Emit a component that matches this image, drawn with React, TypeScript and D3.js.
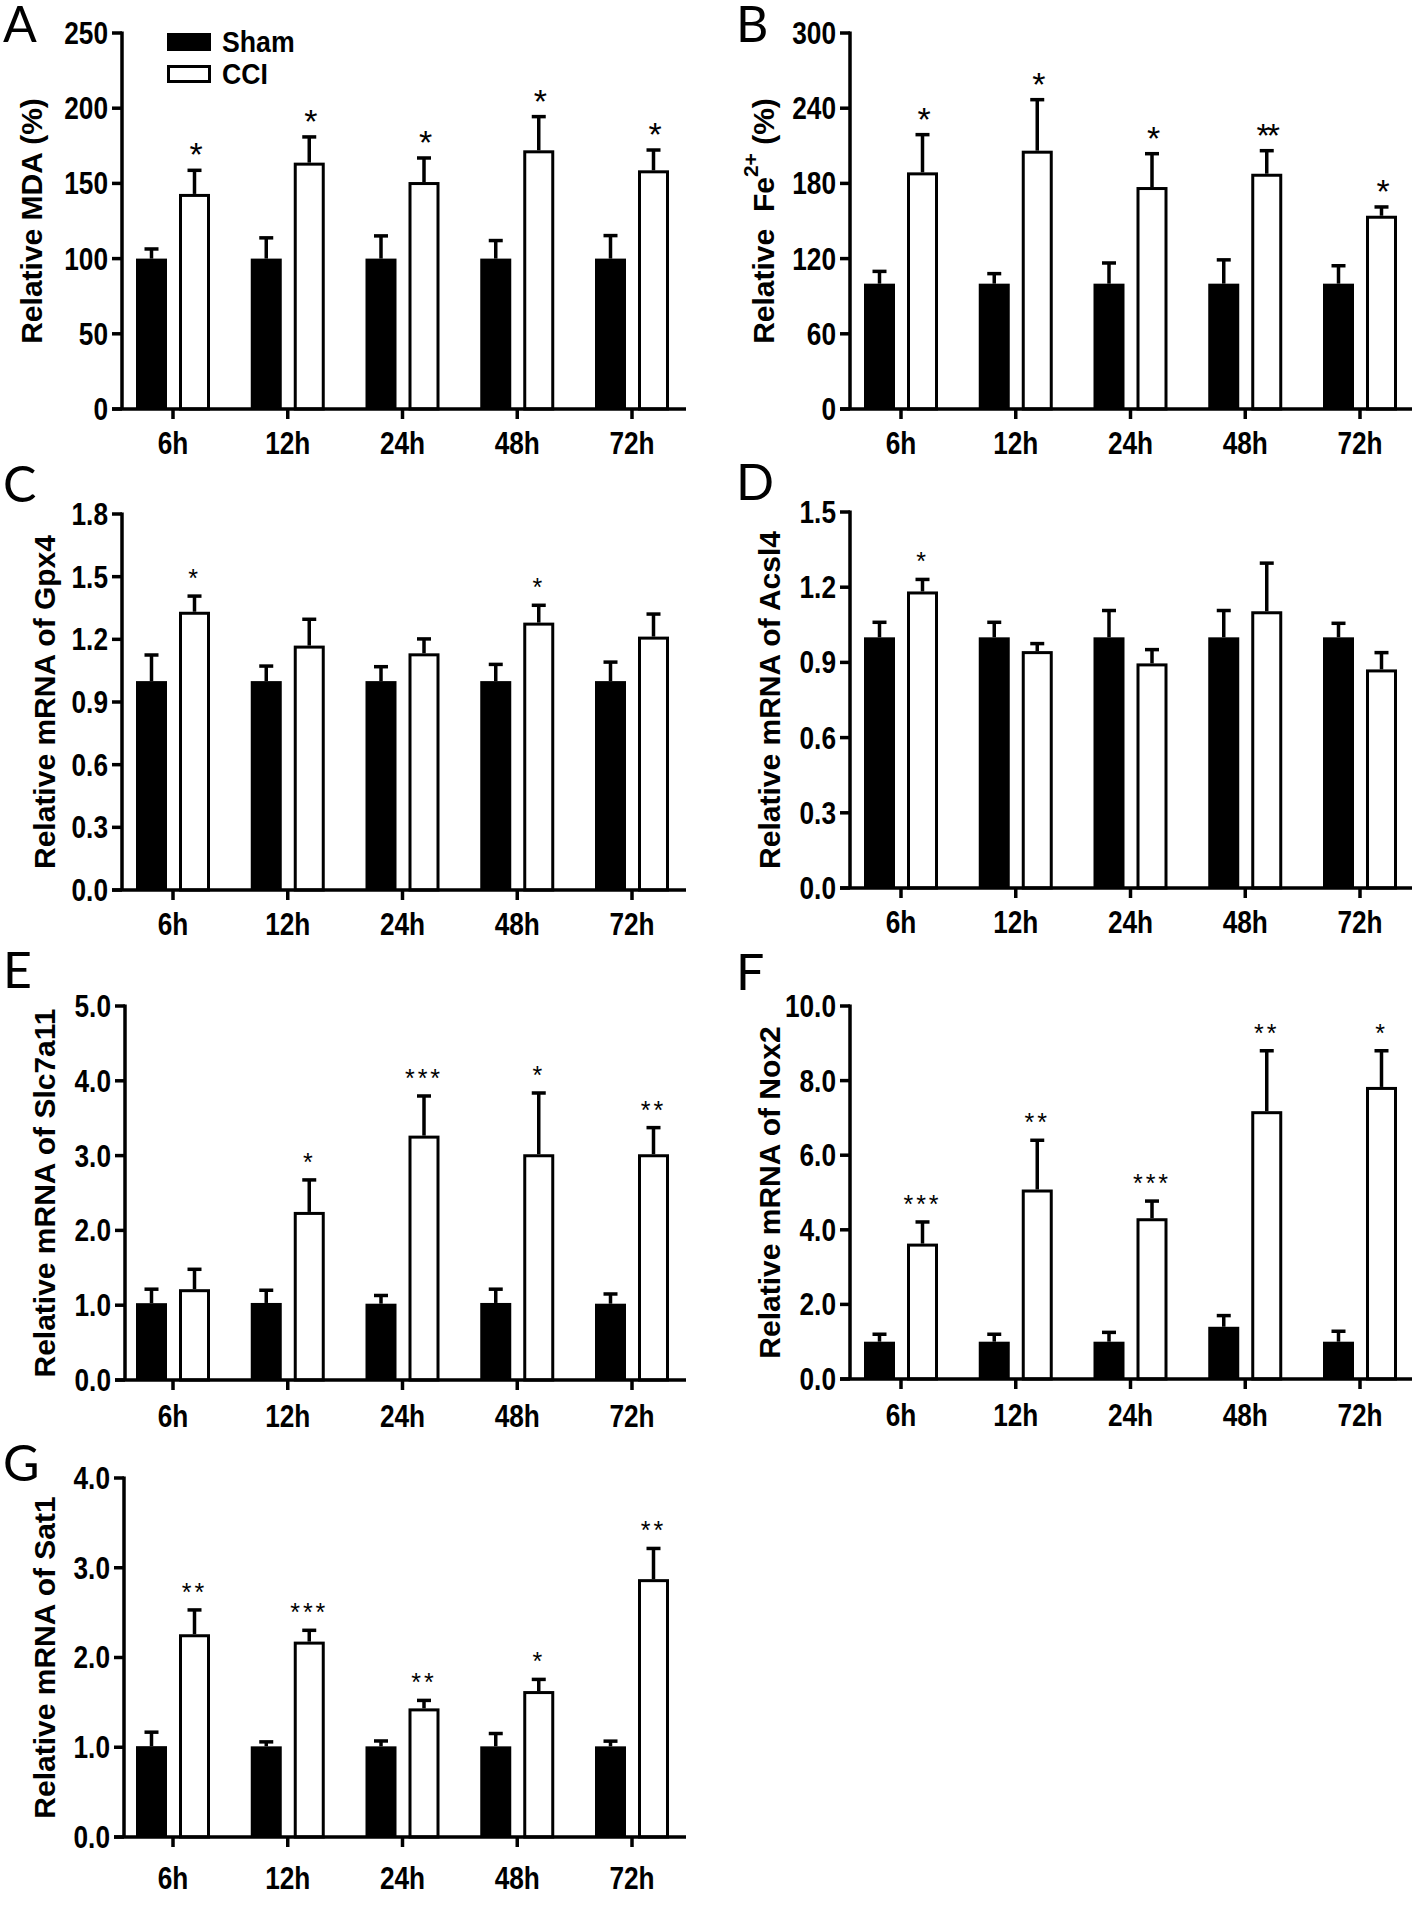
import React from 'react';
import * as d3 from 'd3';

const categories = ['6h', '12h', '24h', '48h', '72h'];
const legendLabels = ['Sham', 'CCI'];

// Panel A – MDA
const mdaSham = [100, 100, 100, 100, 100];
const mdaShamErr = [6.4, 13.8, 15.1, 12.0, 15.3];
const mdaCci = [143, 163.8, 150.9, 172, 158.7];
const mdaCciErr = [15.7, 17.1, 16.0, 22.4, 13.5];
const mdaSig = ['*', '*', '*', '*', '*'];
const mdaTicks = [0, 50, 100, 150, 200, 250];

// Panel B – Fe2+
const feSham = [100, 100, 100, 100, 100];
const feShamErr = [9.8, 8.0, 16.5, 19.0, 14.3];
const feCci = [188.8, 206.1, 177.1, 187.7, 154.2];
const feCciErr = [30.1, 40.7, 26.6, 18.4, 7.0];
const feSig = ['*', '*', '*', '**', '*'];
const feTicks = [0, 60, 120, 180, 240, 300];

// Panel C – Gpx4
const gpxSham = [1.0, 1.0, 1.0, 1.0, 1.0];
const gpxShamErr = [0.125, 0.072, 0.069, 0.08, 0.091];
const gpxCci = [1.332, 1.17, 1.133, 1.28, 1.213];
const gpxCciErr = [0.075, 0.126, 0.069, 0.083, 0.108];
const gpxSig = ['*', '', '', '*', ''];
const gpxTicks = [0, 0.3, 0.6, 0.9, 1.2, 1.5, 1.8];

// Panel D – Acsl4
const acslSham = [1.0, 1.0, 1.0, 1.0, 1.0];
const acslShamErr = [0.06, 0.06, 0.107, 0.107, 0.056];
const acslCci = [1.183, 0.945, 0.896, 1.104, 0.872];
const acslCciErr = [0.048, 0.03, 0.055, 0.192, 0.067];
const acslSig = ['*', '', '', '', ''];
const acslTicks = [0, 0.3, 0.6, 0.9, 1.2, 1.5];

// Panel E – Slc7a11
const slcSham = [1.027, 1.03, 1.02, 1.03, 1.02];
const slcShamErr = [0.187, 0.17, 0.11, 0.184, 0.13];
const slcCci = [1.214, 2.247, 3.267, 3.018, 3.018];
const slcCciErr = [0.266, 0.428, 0.53, 0.819, 0.356];
const slcSig = ['', '*', '***', '*', '**'];
const slcTicks = [0, 1, 2, 3, 4, 5];

// Panel F – Nox2
const noxSham = [1.0, 1.0, 1.0, 1.4, 1.0];
const noxShamErr = [0.2, 0.2, 0.25, 0.3, 0.28];
const noxCci = [3.63, 5.08, 4.31, 7.18, 7.83];
const noxCciErr = [0.58, 1.32, 0.46, 1.62, 0.97];
const noxSig = ['***', '**', '***', '**', '*'];
const noxTicks = [0, 2, 4, 6, 8, 10];

// Panel G – Sat1
const satSham = [1.012, 1.01, 1.01, 1.01, 1.01];
const satShamErr = [0.156, 0.05, 0.06, 0.143, 0.058];
const satCci = [2.259, 2.177, 1.433, 1.626, 2.873];
const satCciErr = [0.271, 0.126, 0.089, 0.13, 0.342];
const satSig = ['**', '***', '**', '*', '**'];
const satTicks = [0, 1, 2, 3, 4];

const FONT = '"Liberation Sans", Arial, Helvetica, sans-serif';
const TICK_FS = 32;
const TICK_SX = 0.82;

const columns = [
  { axisX: 122, first: 173, last: 632, end: 686, titleX: 44, letterX: 3 },
  { axisX: 850, first: 901, last: 1360, end: 1412, titleX: 769, letterX: 736 },
];

type PanelDef = {
  letter: string;
  title: string;
  sham: number[];
  shamErr: number[];
  cci: number[];
  cciErr: number[];
  sig: string[];
  ticks: number[];
  fmt: (v: number) => string;
  col: number;
  top: number;
  bottom: number;
  letterY: number;
  titleX?: number;
  axisDx?: number;
  labelDy?: number;
  bigStars?: boolean;
  legend?: boolean;
};

const f0 = d3.format('d');
const f1 = d3.format('.1f');

const panels: PanelDef[] = [
  { letter: 'A', title: 'Relative MDA (%)', sham: mdaSham, shamErr: mdaShamErr, cci: mdaCci, cciErr: mdaCciErr, sig: mdaSig, ticks: mdaTicks, fmt: f0, col: 0, top: 33, bottom: 409, letterY: 42, titleX: 31, bigStars: true, legend: true },
  { letter: 'B', title: 'FE', sham: feSham, shamErr: feShamErr, cci: feCci, cciErr: feCciErr, sig: feSig, ticks: feTicks, fmt: f0, col: 1, top: 33, bottom: 409, letterY: 42, titleX: 763, bigStars: true },
  { letter: 'C', title: 'Relative mRNA of Gpx4', sham: gpxSham, shamErr: gpxShamErr, cci: gpxCci, cciErr: gpxCciErr, sig: gpxSig, ticks: gpxTicks, fmt: f1, col: 0, top: 514, bottom: 890, letterY: 502 },
  { letter: 'D', title: 'Relative mRNA of Acsl4', sham: acslSham, shamErr: acslShamErr, cci: acslCci, cciErr: acslCciErr, sig: acslSig, ticks: acslTicks, fmt: f1, col: 1, top: 512, bottom: 888, letterY: 500 },
  { letter: 'E', title: 'Relative mRNA of Slc7a11', sham: slcSham, shamErr: slcShamErr, cci: slcCci, cciErr: slcCciErr, sig: slcSig, ticks: slcTicks, fmt: f1, col: 0, top: 1006, bottom: 1380, letterY: 988, axisDx: 3, labelDy: 2 },
  { letter: 'F', title: 'Relative mRNA of Nox2', sham: noxSham, shamErr: noxShamErr, cci: noxCci, cciErr: noxCciErr, sig: noxSig, ticks: noxTicks, fmt: f1, col: 1, top: 1006, bottom: 1379, letterY: 990, labelDy: 2 },
  { letter: 'G', title: 'Relative mRNA of Sat1', sham: satSham, shamErr: satShamErr, cci: satCci, cciErr: satCciErr, sig: satSig, ticks: satTicks, fmt: f1, col: 0, top: 1478, bottom: 1837, letterY: 1481, axisDx: 2, labelDy: 7 },
];

const BAR_W = 31;
const HALF_OFF = 21.5;
const CAP = 14;

function NarrowText({ x, y, anchor, children, fs = TICK_FS, sx = TICK_SX, baseline }: { x: number; y: number; anchor: string; children: React.ReactNode; fs?: number; sx?: number; baseline?: string }) {
  return (
    <text
      transform={`translate(${x},${y}) scale(${sx},1)`}
      textAnchor={anchor}
      dominantBaseline={baseline}
      fontFamily={FONT}
      fontWeight="bold"
      fontSize={fs}
      fill="#000"
    >
      {children}
    </text>
  );
}

function Panel({ p }: { p: PanelDef }) {
  const c = columns[p.col];
  const axisX = c.axisX + (p.axisDx || 0);
  const x = d3.scalePoint<string>().domain(categories).range([c.first, c.last]);
  const yMax = p.ticks[p.ticks.length - 1];
  const y = d3.scaleLinear().domain([0, yMax]).range([p.bottom, p.top]);
  const starSize = p.bigStars ? 34 : 25;
  const starSpacing = p.bigStars ? -3 : 3;
  const starBase = p.bigStars ? 19 : 14;
  const titleX = p.titleX ?? c.titleX;
  const midY = (p.top + p.bottom) / 2;

  let title: React.ReactNode = p.title;
  if (p.title === 'FE') {
    title = (
      <>
        <tspan>{'Relative  Fe'}</tspan>
        <tspan dy={-13} fontSize={21}>2+</tspan>
        <tspan dy={13}>{' (%)'}</tspan>
      </>
    );
  }

  return (
    <g>
      <text x={c.letterX} y={p.letterY} fontFamily="Lato, 'Open Sans', sans-serif" fontSize={50} fill="#000">
        {p.letter}
      </text>
      <text
        transform={`translate(${titleX},${midY}) rotate(-90)`}
        textAnchor="middle"
        dominantBaseline="central"
        fontFamily={FONT}
        fontWeight="bold"
        fontSize={30}
        style={{ whiteSpace: 'pre' }}
      >
        {title}
      </text>
      {categories.map((cat, i) => {
        const cx = x(cat) as number;
        const sx = cx - HALF_OFF;
        const wx = cx + HALF_OFF;
        const sTop = y(p.sham[i]);
        const sErr = y(p.sham[i] + p.shamErr[i]);
        const wTop = y(p.cci[i]);
        const wErr = y(p.cci[i] + p.cciErr[i]);
        return (
          <g key={cat}>
            <rect x={sx - BAR_W / 2} y={sTop} width={BAR_W} height={p.bottom - sTop} fill="#000" />
            <line x1={sx} x2={sx} y1={sTop} y2={sErr} stroke="#000" strokeWidth={3.5} />
            <line x1={sx - CAP / 2} x2={sx + CAP / 2} y1={sErr} y2={sErr} stroke="#000" strokeWidth={3.5} />
            <line x1={wx} x2={wx} y1={wTop} y2={wErr} stroke="#000" strokeWidth={3.5} />
            <line x1={wx - CAP / 2} x2={wx + CAP / 2} y1={wErr} y2={wErr} stroke="#000" strokeWidth={3.5} />
            <rect x={wx - BAR_W / 2 + 1.5} y={wTop + 1.5} width={BAR_W - 3} height={p.bottom - wTop - 1.5} fill="#fff" stroke="#000" strokeWidth={3} />
            {p.sig[i] && (
              <text
                x={wx}
                y={wErr - 23 + starBase}
                textAnchor="middle"
                fontFamily={FONT}
                fontSize={starSize}
                letterSpacing={starSpacing}
                fill="#000"
              >
                {p.sig[i]}
              </text>
            )}
          </g>
        );
      })}
      <line x1={axisX} x2={axisX} y1={p.top - 1.5} y2={p.bottom} stroke="#000" strokeWidth={3.5} />
      {p.ticks.map((t) => (
        <g key={t}>
          <line x1={axisX - 10} x2={axisX} y1={y(t)} y2={y(t)} stroke="#000" strokeWidth={3.5} />
          <NarrowText x={axisX - 14} y={y(t)} anchor="end" baseline="central">
            {p.fmt(t)}
          </NarrowText>
        </g>
      ))}
      <line x1={axisX - 10} x2={c.end} y1={p.bottom} y2={p.bottom} stroke="#000" strokeWidth={3.5} />
      {categories.map((cat) => (
        <g key={cat}>
          <line x1={x(cat)} x2={x(cat)} y1={p.bottom} y2={p.bottom + 10} stroke="#000" strokeWidth={3.5} />
          <NarrowText x={x(cat) as number} y={p.bottom + 45 + (p.labelDy || 0)} anchor="middle">
            {cat}
          </NarrowText>
        </g>
      ))}
      {p.legend && (
        <g>
          {legendLabels.map((lab, i) => (
            <g key={lab}>
              <rect
                x={168.5}
                y={34.5 + i * 32}
                width={41}
                height={15}
                fill={i === 0 ? '#000' : '#fff'}
                stroke="#000"
                strokeWidth={3}
              />
              <NarrowText x={222} y={42 + i * 32} anchor="start" baseline="central" fs={29} sx={0.92}>
                {lab}
              </NarrowText>
            </g>
          ))}
        </g>
      )}
    </g>
  );
}

export default function App() {
  return (
    <svg
      width={1418}
      height={1907}
      viewBox="0 0 1418 1907"
      style={{ position: 'absolute', left: 0, top: 0, background: '#fff' }}
    >
      <rect x={0} y={0} width={1418} height={1907} fill="#fff" />
      {panels.map((p) => (
        <Panel key={p.letter} p={p} />
      ))}
    </svg>
  );
}
